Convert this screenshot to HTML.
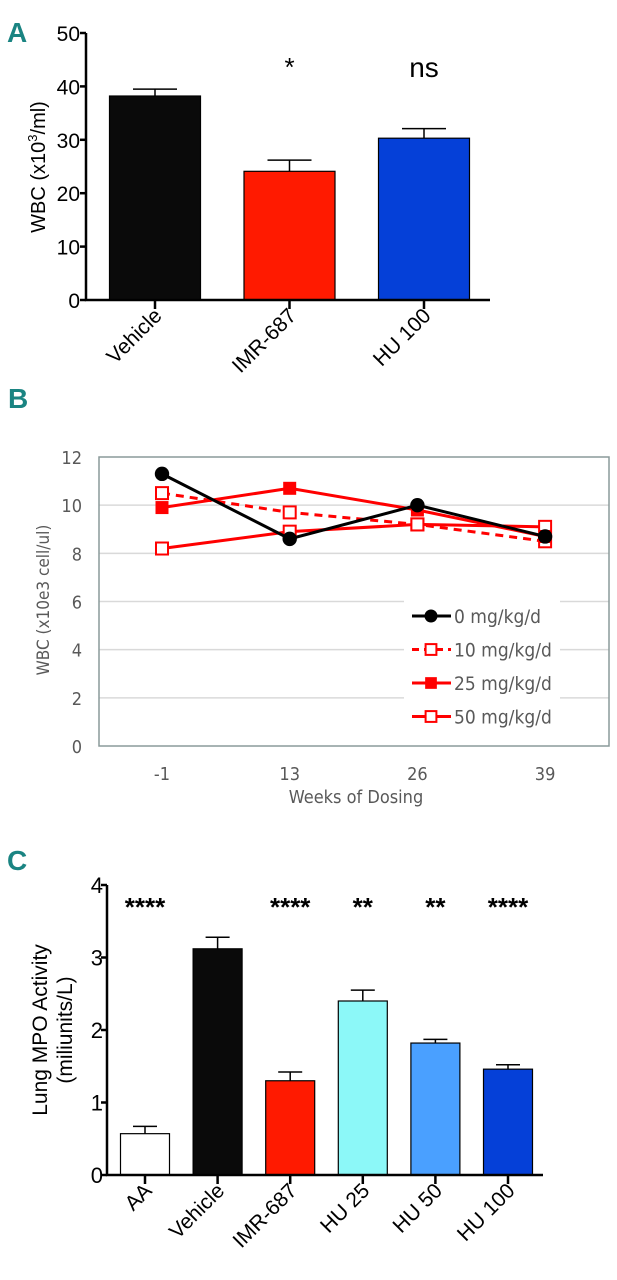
<!DOCTYPE html>
<html><head><meta charset="utf-8">
<style>
html,body{margin:0;padding:0;background:#fff;}
body{width:617px;height:1280px;overflow:hidden;}
svg{display:block;}
.hv{font-family:"Liberation Sans Narrow","Liberation Sans",sans-serif;}
.cal{font-family:"DejaVu Sans Condensed","Liberation Sans",sans-serif;}
.pl{font-family:"Liberation Sans Narrow","Liberation Sans",sans-serif;font-weight:bold;fill:#1a8482;font-size:28px;}
</style></head>
<body>
<svg id="root" width="617" height="1280" viewBox="0 0 617 1280" xmlns="http://www.w3.org/2000/svg">
  <text class="pl" x="7" y="42">A</text>
  <text class="pl" x="8" y="408">B</text>
  <text class="pl" x="7" y="870">C</text>
  <g id="chartA"></g>
  <g id="chartB"></g>
  <g id="chartC"></g>
</svg>
<script>
// Chart A data
const aCats = ["Vehicle","IMR-687","HU 100"];
const aVals = [38.2,24.1,30.3];
const aErr = [1.3,2.1,1.8];
const aSig = ["","*","ns"];
const aTicks = [0,10,20,30,40,50];
const aColors = ["#0a0a0a","#ff1a00","#0540d8"];
// Chart B data
const bCats = ["-1","13","26","39"];
const bS0 = [11.3,8.6,10.0,8.7];
const bS10 = [10.5,9.7,9.2,8.5];
const bS25 = [9.9,10.7,9.8,8.7];
const bS50 = [8.2,8.9,9.2,9.1];
const bSeriesNames = ["0 mg/kg/d","10 mg/kg/d","25 mg/kg/d","50 mg/kg/d"];
const bTicks = [0,2,4,6,8,10,12];
// Chart C data
const cCats = ["AA","Vehicle","IMR-687","HU 25","HU 50","HU 100"];
const cVals = [0.57,3.12,1.30,2.40,1.82,1.46];
const cErr = [0.10,0.16,0.12,0.15,0.05,0.06];
const cSig = ["****","","****","**","**","****"];
const cTicks = [0,1,2,3,4];
const cColors = ["#ffffff","#0a0a0a","#ff1a00","#8cf8f8","#4aa0ff","#0540d8"];

const NS="http://www.w3.org/2000/svg";
function mk(parent,tag,attrs,text){const e=document.createElementNS(NS,tag);for(const k in attrs)e.setAttribute(k,attrs[k]);if(text!==undefined)e.textContent=text;parent.appendChild(e);return e;}

// ---- Chart A ----
(function(){
  const g=document.getElementById('chartA');
  const x0=86,y0=300,yTop=33,vmax=50;
  const y=v=>y0-(v/vmax)*(y0-yTop);
  const xc=i=>155+i*134.5;
  const bw=91;
  for(const t of aTicks){
    const l=mk(g,'line',{x1:x0-6,x2:x0,y1:y(t),y2:y(t),stroke:'#000','stroke-width':2.5});
    
    
    const tx=mk(g,'text',{x:x0-6,y:y(t)+8,'text-anchor':'end','font-size':21,class:'hv'},String(t));
    
    
  }
  aVals.forEach((v,i)=>{
    const cx=xc(i);
    const eb=mk(g,'path',{d:`M${cx} ${y(v)}V${y(v+aErr[i])}M${cx-22} ${y(v+aErr[i])}H${cx+22}`,stroke:'#000','stroke-width':1.5,fill:'none'});
    
    
    const r=mk(g,'rect',{x:cx-bw/2,y:y(v),width:bw,height:y0-y(v),fill:aColors[i],stroke:'#000','stroke-width':1.2});
    
    
    const tk=mk(g,'line',{x1:cx,x2:cx,y1:y0,y2:y0+9,stroke:'#000','stroke-width':2.5});
    
    
    const lb=mk(g,'text',{x:0,y:0,'text-anchor':'end','font-size':21,class:'hv',transform:`translate(${cx+8},${y0+17}) rotate(-45)`},aCats[i]);
    
    
    if(aSig[i]){
      const s=mk(g,'text',{x:cx,y:aSig[i]==='*'?76:77,'text-anchor':'middle','font-size':aSig[i]==='*'?26:28,class:'hv'},aSig[i]);
      
      
    }
  });
  const ax=mk(g,'path',{d:`M${x0} ${yTop}V${y0}H490`,stroke:'#000','stroke-width':2.5,fill:'none'});
  
  
  const yt=mk(g,'text',{x:0,y:0,'text-anchor':'middle','font-size':20,class:'hv',transform:'translate(45,167) rotate(-90)'});
  
  
  mk(yt,'tspan',{},'WBC (x10');
  mk(yt,'tspan',{'font-size':13,dy:-8},'3');
  mk(yt,'tspan',{dy:8},'/ml)');
})();

// ---- Chart B ----
(function(){
  const g=document.getElementById('chartB');
  const L=99,R=609,T=457,B=746,vmax=12;
  const y=v=>B-(v/vmax)*(B-T);
  const xc=i=>162+i*127.7;
  const grey='#595959';
  for(const t of bTicks){
    if(t>0&&t<12){const gl=mk(g,'line',{x1:L,x2:R,y1:y(t),y2:y(t),stroke:'#d9d9d9','stroke-width':1.5});
    
    }
    const tx=mk(g,'text',{x:82,y:y(t)+7,'text-anchor':'end','font-size':18,fill:grey,class:'cal'},String(t));
    
    
  }
  const fr=mk(g,'rect',{x:L,y:T,width:R-L,height:B-T,fill:'none',stroke:'#8a9a9a','stroke-width':1.5});
  
  
  bCats.forEach((c,i)=>{
    const tx=mk(g,'text',{x:xc(i),y:780,'text-anchor':'middle','font-size':18,fill:grey,class:'cal'},c);
    
    
  });
  const xt=mk(g,'text',{x:356,y:803,'text-anchor':'middle','font-size':18,fill:grey,class:'cal'},'Weeks of Dosing');
  
  
  const yt=mk(g,'text',{x:0,y:0,'text-anchor':'middle','font-size':17,fill:grey,class:'cal',transform:'translate(49,600) rotate(-90)'},'WBC (x10e3 cell/ul)');
  
  
  const series=[
    {d:bS0,col:'#000',dash:null,m:'circle'},
    {d:bS10,col:'#ff0000',dash:'8,6',m:'open'},
    {d:bS25,col:'#ff0000',dash:null,m:'filled'},
    {d:bS50,col:'#ff0000',dash:null,m:'open'}
  ];
  function marker(p,m,cx,cy,col,sz){
    let e;
    if(m==='circle') e=mk(p,'circle',{cx:cx,cy:cy,r:sz*0.72,fill:col});
    else if(m==='filled') e=mk(p,'rect',{x:cx-sz*0.65,y:cy-sz*0.65,width:sz*1.3,height:sz*1.3,fill:col});
    else e=mk(p,'rect',{x:cx-sz*0.6,y:cy-sz*0.6,width:sz*1.2,height:sz*1.2,fill:'#fff',stroke:col,'stroke-width':2});
    return e;
  }
  const drawOrder=[3,1,2,0];
  drawOrder.forEach(si=>{
    const s=series[si];
    const pts=s.d.map((v,i)=>xc(i)+','+y(v)).join(' ');
    const pl=mk(g,'polyline',{points:pts,fill:'none',stroke:s.col,'stroke-width':3});
    if(s.dash) pl.setAttribute('stroke-dasharray',s.dash);
    
    
    s.d.forEach((v,i)=>{
      const mm=marker(g,s.m,xc(i),y(v),s.col,10);
      
      
    });
  });
  const lg=mk(g,'g',{});
  
  
  mk(lg,'rect',{x:404,y:600,width:156,height:130,fill:'#fff'});
  series.forEach((s,i)=>{
    const ly=616+i*33.5;
    const e=mk(lg,'g',{});
    
    
    const ln=mk(e,'line',{x1:412,x2:451,y1:ly,y2:ly,stroke:s.col,'stroke-width':3});
    if(s.dash) ln.setAttribute('stroke-dasharray','7,5');
    marker(e,s.m,431,ly,s.col,9);
    mk(e,'text',{x:454,y:ly+7,'font-size':19,fill:grey,class:'cal'},bSeriesNames[i]);
  });
})();

// ---- Chart C ----
(function(){
  const g=document.getElementById('chartC');
  const x0=107,y0=1175,yTop=885,vmax=4;
  const y=v=>y0-(v/vmax)*(y0-yTop);
  const xc=i=>145+i*72.6;
  const bw=49;
  for(const t of cTicks){
    const l=mk(g,'line',{x1:x0-6,x2:x0,y1:y(t),y2:y(t),stroke:'#000','stroke-width':2.5});
    
    
    const tx=mk(g,'text',{x:x0-4,y:y(t)+8,'text-anchor':'end','font-size':22,class:'hv'},String(t));
    
    
  }
  cVals.forEach((v,i)=>{
    const cx=xc(i);
    const eb=mk(g,'path',{d:`M${cx} ${y(v)}V${y(v+cErr[i])}M${cx-12} ${y(v+cErr[i])}H${cx+12}`,stroke:'#000','stroke-width':1.5,fill:'none'});
    
    
    const r=mk(g,'rect',{x:cx-bw/2,y:y(v),width:bw,height:y0-y(v),fill:cColors[i],stroke:'#000','stroke-width':1.2});
    
    
    const tk=mk(g,'line',{x1:cx,x2:cx,y1:y0,y2:y0+9,stroke:'#000','stroke-width':2.5});
    
    
    const lb=mk(g,'text',{x:0,y:0,'text-anchor':'end','font-size':21,class:'hv',transform:`translate(${cx+8},${y0+17}) rotate(-45)`},cCats[i]);
    
    
    if(cSig[i]){
      const s=mk(g,'text',{x:cx,y:916,'text-anchor':'middle','font-size':26,'font-weight':'bold',class:'hv'},cSig[i]);
      
      
    }
  });
  const ax=mk(g,'path',{d:`M${x0} ${yTop}V${y0}H543`,stroke:'#000','stroke-width':2.5,fill:'none'});
  
  
  const yt=mk(g,'text',{x:0,y:0,'text-anchor':'middle','font-size':21,class:'hv',transform:'translate(47,1030) rotate(-90)'},'Lung MPO Activity');
  
  
  const yt2=mk(g,'text',{x:0,y:0,'text-anchor':'middle','font-size':21,class:'hv',transform:'translate(72,1030) rotate(-90)'},'(miliunits/L)');
  
  
})();
</script>
</body></html>
